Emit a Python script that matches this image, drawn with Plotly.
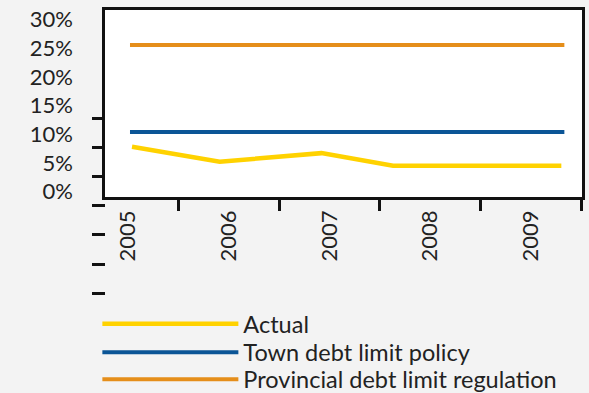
import plotly.graph_objects as go

years = ["2005", "2006", "2007", "2008", "2009"]
year_pos = [0, 1, 2, 3, 4]
boundary_pos = [0.5, 1.5, 2.5, 3.5, 4.5]

actual_x = [0.04, 0.91, 1.92, 2.63, 4.30]
actual = [7.8, 5.2, 6.7, 4.5, 4.5]
limit_x = [0.02, 4.33]
town_limit = [10.4, 10.4]
provincial_limit = [25.6, 25.6]

y_ticks = [0, 5, 10, 15, 20, 25, 30]
y_ticktext = [f"{v}%" for v in y_ticks]
extra_ticks = [0, 1, 2, 3, 4, 5, 6]

FONT = "Lato"
TXT = "#222222"
AX = "#111111"

fig = go.Figure()
fig.add_trace(go.Scatter(x=actual_x, y=actual, mode="lines", name="Actual",
                         xaxis="x2", yaxis="y",
                         line=dict(color="#FFD200", width=4.5), legend="legend"))
fig.add_trace(go.Scatter(x=limit_x, y=town_limit, mode="lines", name="Town debt limit policy",
                         line=dict(color="#0B5596", width=4), legend="legend2"))
fig.add_trace(go.Scatter(x=limit_x, y=provincial_limit, mode="lines",
                         name="Provincial debt limit regulation",
                         line=dict(color="#E58E1A", width=4), legend="legend3"))
# helper so the secondary tick axis is rendered (no visible marks)
fig.add_trace(go.Scatter(x=[None], y=[None], xaxis="x", yaxis="y2", mode="lines",
                         showlegend=False, hoverinfo="skip"))

xr = [-0.228, 4.505]
H_TOP, H_BOT = 10, 300


def py(p):
    return (H_BOT - p) / (H_BOT - H_TOP)


leg_common = dict(orientation="v", x=-0.016, xanchor="left", yanchor="middle",
                  bgcolor="rgba(0,0,0,0)", itemwidth=136,
                  font=dict(family=FONT, size=23.5, color=TXT))

fig.update_layout(
    width=589, height=393, autosize=False,
    margin=dict(l=105, r=7, t=H_TOP, b=393 - H_BOT, pad=0, autoexpand=False),
    paper_bgcolor="#F3F3F3", plot_bgcolor="rgba(0,0,0,0)",
    font=dict(family=FONT, size=22, color=TXT),
    xaxis=dict(range=xr, tickvals=year_pos, ticktext=years, ticks="", tickangle=-90,
               ticklabelstandoff=2, showline=True, mirror=True, linewidth=2.5,
               tickfont=dict(size=22),
               linecolor=AX, showgrid=False, zeroline=False, anchor="y", domain=[0, 1]),
    xaxis2=dict(range=xr, overlaying="x", anchor="y", side="bottom", tickvals=boundary_pos,
                ticks="outside", ticklen=13, tickwidth=2.5, tickcolor=AX,
                showticklabels=False, showgrid=False, zeroline=False, showline=False),
    yaxis=dict(domain=[py(197), 1], range=[-0.96, 31.7], tickvals=y_ticks, ticktext=y_ticktext,
               ticks="", ticklabelstandoff=25, showline=True, mirror=True, linewidth=2.5,
               linecolor=AX, showgrid=False, zeroline=False),
    yaxis2=dict(domain=[py(293.3), py(118.3)], range=[0, 6], anchor="free", position=0,
                tickvals=extra_ticks, ticks="outside", ticklen=13, tickwidth=2.5, tickcolor=AX,
                showticklabels=False, showline=False, showgrid=False, zeroline=False),
    shapes=[dict(type="rect", xref="x domain", yref="y domain", x0=0, x1=1, y0=0, y1=1,
                 fillcolor="white", line=dict(width=0), layer="below")],
    legend=dict(leg_common, y=py(324)),
    legend2=dict(leg_common, y=py(352.5)),
    legend3=dict(leg_common, y=py(379.5)),
    showlegend=True,
)

fig.write_html("out.html")
